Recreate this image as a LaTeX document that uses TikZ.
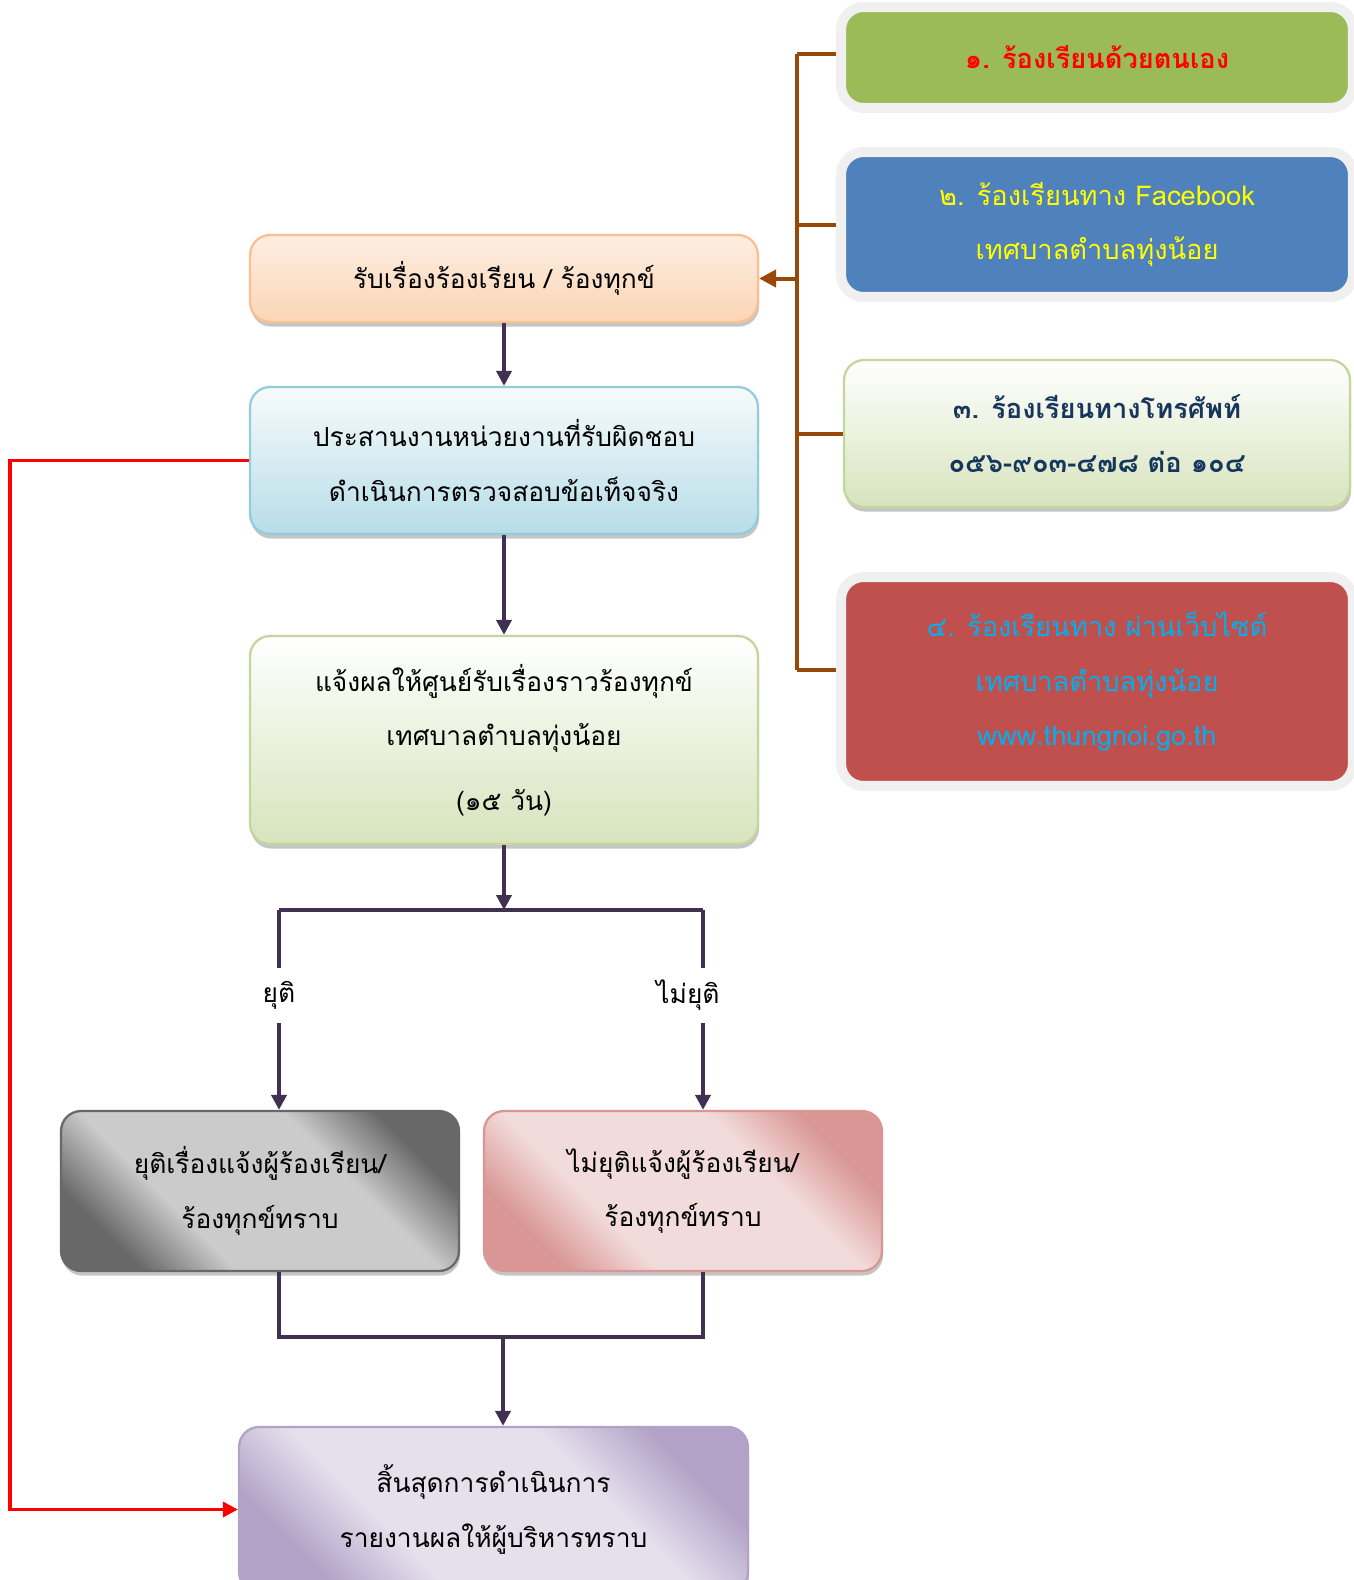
\documentclass[tikz,border=0pt]{standalone}
\usepackage{fontspec}
\setmainfont[Script=Thai]{Loma}
\usepackage{tikz}
\usetikzlibrary{arrows.meta,positioning,shadows}

\definecolor{linecol}{HTML}{403152}
\definecolor{brcol}{HTML}{984807}
\definecolor{gdark}{HTML}{686868}
\definecolor{glight}{HTML}{CBCBCB}
\definecolor{pdark}{HTML}{D99694}
\definecolor{plight}{HTML}{F2DCDB}
\definecolor{vdark}{HTML}{B3A2C7}
\definecolor{vlight}{HTML}{E5E0EC}
\definecolor{otop}{HTML}{FDEEE2}
\definecolor{obot}{HTML}{FBD5B5}
\definecolor{oline}{HTML}{FAC090}
\definecolor{btop}{HTML}{F7FBFC}
\definecolor{bbot}{HTML}{B7DDE8}
\definecolor{bline}{HTML}{93CDDD}
\definecolor{gbot}{HTML}{D7E4BD}
\definecolor{gline}{HTML}{C3D69B}
\definecolor{chgreen}{HTML}{9BBB59}
\definecolor{chblue}{HTML}{4F81BD}
\definecolor{chred}{HTML}{C0504D}
\definecolor{chnavy}{HTML}{17365D}
\definecolor{chcyan}{HTML}{00B0F0}
\definecolor{chyellow}{HTML}{FFFF00}

\pgfdeclarehorizontalshading{grayshade}{100bp}{color(0bp)=(gdark); color(25bp)=(gdark); color(37bp)=(glight); color(63bp)=(glight); color(75bp)=(gdark); color(100bp)=(gdark)}
\pgfdeclarehorizontalshading{pinkshade}{100bp}{color(0bp)=(pdark); color(25bp)=(pdark); color(37bp)=(plight); color(63bp)=(plight); color(75bp)=(pdark); color(100bp)=(pdark)}
\pgfdeclarehorizontalshading{violetshade}{100bp}{color(0bp)=(vdark); color(25bp)=(vdark); color(37bp)=(vlight); color(63bp)=(vlight); color(75bp)=(vdark); color(100bp)=(vdark)}

\begin{document}
\begin{tikzpicture}[
  x=0.02cm, y=-0.02cm,
  box/.style={draw, rounded corners=0.4cm, line width=1.3pt, align=center,
              font=\fontsize{15pt}{31pt}\selectfont,
              drop shadow={shadow xshift=0.6pt, shadow yshift=-2.6pt, fill=black!45}},
  rcvbox/.style={box, draw=oline, top color=otop, bottom color=obot,
                 minimum width=10.16cm, minimum height=1.74cm},
  chkbox/.style={box, draw=bline, top color=btop, bottom color=bbot,
                 minimum width=10.16cm, minimum height=2.94cm},
  ntfbox/.style={box, draw=gline, top color=white, bottom color=gbot,
                 minimum width=10.16cm, minimum height=4.16cm},
  endbox/.style={box, minimum width=7.96cm, minimum height=3.2cm, shading angle=45},
  chbox/.style={draw=black!6, line width=0.2cm, rounded corners=0.45cm, align=center,
                minimum width=10.24cm, font=\fontsize{15.5pt}{31pt}\selectfont,
                drop shadow={shadow xshift=0.8pt, shadow yshift=-2.2pt, fill=black!50}},
  lbl/.style={fill=white, inner xsep=1pt, minimum height=1.1cm,
              font=\fontsize{15pt}{31pt}\selectfont},
  darr/.style={draw=linecol, line width=0.08cm, -{Triangle[length=0.3cm,width=0.3cm]}},
  dline/.style={draw=linecol, line width=0.08cm},
  brline/.style={draw=brcol, line width=0.08cm},
  brarr/.style={brline, -{Triangle[length=0.34cm,width=0.34cm]}},
  redarr/.style={draw=red, line width=0.07cm, -{Triangle[length=0.3cm,width=0.3cm]}}
]
\useasboundingbox (0,0) rectangle (1354,1580);

\node[rcvbox] (rcv) at (504,278.5) {รับเรื่องร้องเรียน / ร้องทุกข์};
\node[chkbox] (chk) at (504,460.5) {ประสานงานหน่วยงานที่รับผิดชอบ\\ดำเนินการตรวจสอบข้อเท็จจริง};
\node[ntfbox] (ntf) at (504,740) {แจ้งผลให้ศูนย์รับเรื่องราวร้องทุกข์\\เทศบาลตำบลทุ่งน้อย\\[6pt](๑๕ วัน)};
\node[endbox, draw=gdark, shading=grayshade] (done) at (260,1191) {ยุติเรื่องแจ้งผู้ร้องเรียน/\\ร้องทุกข์ทราบ};
\node[endbox, draw=pdark, shading=pinkshade] (notdone) at (683,1191) {ไม่ยุติแจ้งผู้ร้องเรียน/\\ร้องทุกข์ทราบ};
\node[box, draw=vdark, shading=violetshade, shading angle=45, minimum width=10.18cm,
      minimum height=3.3cm] (fin) at (493.5,1509.5) {สิ้นสุดการดำเนินการ\\รายงานผลให้ผู้บริหารทราบ};

\node[chbox, fill=chgreen, text=red, font=\fontsize{15.5pt}{31pt}\selectfont\bfseries,
      minimum height=2.02cm] (ch1) at (1097,57.5) {๑. ร้องเรียนด้วยตนเอง};
\node[chbox, fill=chblue, text=chyellow, minimum height=2.9cm] (ch2) at (1097,224.5)
  {๒. ร้องเรียนทาง Facebook\\เทศบาลตำบลทุ่งน้อย};
\node[box, draw=gline, top color=white, bottom color=gbot,
      text=chnavy, font=\fontsize{15.5pt}{31pt}\selectfont\bfseries,
      minimum width=10.12cm, minimum height=2.94cm] (ch3) at (1097,433.5)
  {๓. ร้องเรียนทางโทรศัพท์\\๐๕๖-๙๐๓-๔๗๘ ต่อ ๑๐๔};
\node[chbox, fill=chred, text=chcyan, minimum height=4.18cm] (ch4) at (1097,681.5)
  {๔. ร้องเรียนทาง ผ่านเว็บไซต์\\เทศบาลตำบลทุ่งน้อย\\www.thungnoi.go.th};

\coordinate (bt) at (797,54);
\coordinate (bb) at (797,670);
\draw[brline] (bt) -- (bb);
\draw[brline] (bt) -- (ch1.west |- bt);
\draw[brline] (ch2.west -| bt) -- (ch2.west);
\draw[brline] (ch3.west -| bt) -- (ch3.west);
\draw[brline] (bb) -- (ch4.west |- bb);
\draw[brarr] (rcv.east -| bt) -- (rcv.east);

\draw[darr] (rcv) -- (chk);
\draw[darr] (chk) -- (ntf);
\coordinate (jl) at (279,910);
\coordinate (jr) at (703,910);
\draw[darr] (ntf.south) -- (ntf.south |- jl);
\draw[dline] (jl) -- (jr);
\draw[darr] (jl) -- (jl |- done.north);
\draw[darr] (jr) -- (jr |- notdone.north);
\node[lbl] (yes) at (279,995) {ยุติ};
\node[lbl] (no) at (688,995) {ไม่ยุติ};

\coordinate (bl) at (279,1337);
\coordinate (br) at (703,1337);
\coordinate (bm) at (503,1337);
\draw[dline] (done.south -| bl) -- (bl) -- (br) -- (notdone.south -| br);
\draw[darr] (bm) -- (bm |- fin.north);

\draw[redarr] (chk.west) -- ++(-239,0) |- (fin.west);
\end{tikzpicture}
\end{document}
